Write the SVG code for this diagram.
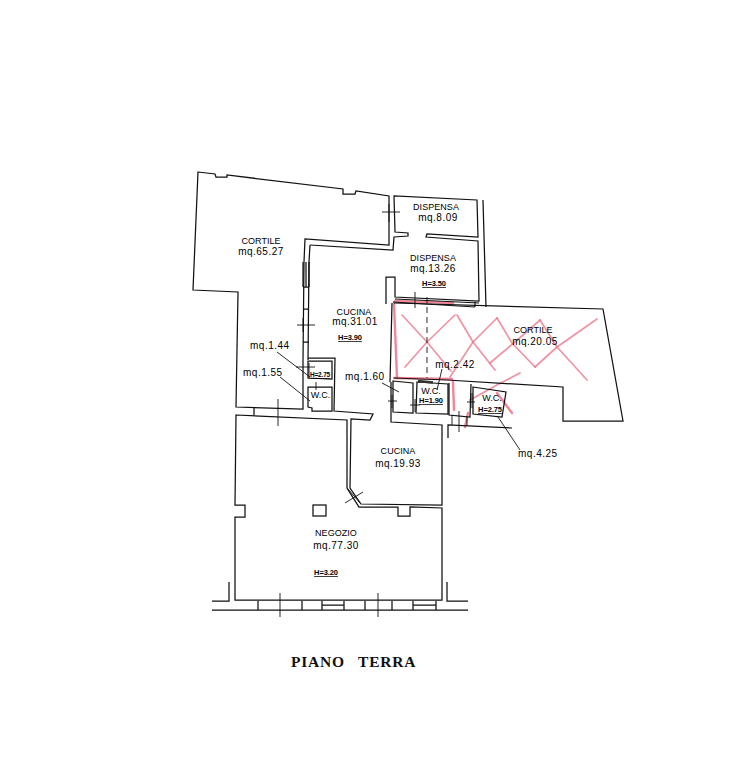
<svg xmlns="http://www.w3.org/2000/svg" width="746" height="764" viewBox="0 0 746 764">
<style>
.w{fill:none;stroke:#111;stroke-width:1.25;stroke-linejoin:miter}
.t{fill:none;stroke:#111;stroke-width:.9}
.r{fill:none;stroke:#e8667c;stroke-width:1.7;stroke-opacity:.7;stroke-linecap:round;stroke-linejoin:round}
.rb{fill:none;stroke:#ea5f76;stroke-width:2.400;stroke-opacity:.75;stroke-linecap:round}
text{font-family:"Liberation Sans",Arial,sans-serif;font-size:10px;fill:#000;text-anchor:middle;letter-spacing:.5px}
.c{font-size:9px;letter-spacing:.05px}
.h{font-size:7.500px;font-weight:bold;text-decoration:underline;letter-spacing:-.1px}
.s{font-size:6.500px;letter-spacing:-.2px}
.l{text-anchor:start}
.title{font-family:"Liberation Serif","Times New Roman",serif;font-size:15.5px;font-weight:bold;text-anchor:start;letter-spacing:.8px;fill:#111}
</style>
<rect width="746" height="764" fill="#fff"/>
<g id="red-marks">
<polyline class="r" points="402,315 427,342 451,371"/>
<polyline class="r" points="405,367 427,342 455,315"/>
<polyline class="r" points="457,315 473,342 495,370"/>
<polyline class="r" points="450,377 473,342 497,318"/>
<polyline class="r" points="497,318 512,343 535,367"/>
<polyline class="r" points="490,363 515,342 540,320"/>
<polyline class="r" points="540,320 557,347 587,380"/>
<polyline class="r" points="535,367 557,347 597,319"/>
<polyline class="r" points="470,400 495,386 520,373"/>
<polyline class="rb" points="497,393 512,413"/>
<polyline class="rb" points="394,303 397,378"/>
<polyline class="rb" points="394,378 452,379"/>
<polyline class="rb" points="395,301 453,303"/>
<polyline class="rb" points="453,382 454,410"/>
<polyline class="rb" points="468,413 465,427"/>
</g>
<g id="walls">
<path class="w" d="M198,172 L215,174 L216,177 L227,177 L227,175 L343,189 L343,194 L355,194 L356,191 L389,196 L389,245 L305,239 L304,262 L303,360 L303,409 L236,407 L238,292 L193,290 Z"/>
<path class="w" d="M310,245 L393,250 L394,237 L408,236 L408,233 L395,232 L394,196 L477,200 L478,237 L427,234 L426,237 L478,241 L479,301 L395,297 L395,277 L386,277 L386,304"/>
<path class="w" d="M310,245 L309,262 L308,360 L308,358 L335,358 L334,411 L373,414 L370,420 L351,419 L350,488 L361,504 L442,505 L442,425 L391,422 L391,382"/>
<path class="w" d="M236,415 L347,420 L347,488 L359,507 L398,507 L398,516 L410,516 L410,507 L442,508 L442,600 L235,600 L235,517 L245,517 L245,505 L235,505 Z"/>
<path class="w" d="M483,200 L486,307"/>
<path class="w" d="M394,303 L603,309 L623,421 L563,421 L563,387 L447,380 L394,378"/>
<path class="w" d="M392,303 L390,382"/>
<path class="w" d="M393,302 L475,307 M395,299 L479,303 M475,302 L475,307"/>
<path class="w" d="M303,262 L303,287 M306,262 L306,287 M309,262 L309,287 M303,287 L309,287 M303,309 L309,309 M303,342 L309,342"/>
<path class="w" d="M254,408 L254,415"/>
<path class="w" d="M212,601 L229,601 L229,582 M447,582 L447,601 L468,601 M212,610 L468,610"/>
<path class="w" d="M258,601 L258,610 M302,601 L302,610 M322,601 L322,610 M344,601 L344,610 M322,605 L344,605 M365,601 L365,610 M392,601 L392,610 M413,601 L413,610 M436,601 L436,610 M413,605 L436,605"/>
<rect class="w" x="313" y="505" width="13" height="11"/>
<path class="w" d="M308,361 L332,361 L332,379 L308,378 Z"/>
<path class="w" d="M308,387 L332,387 L332,411 L312,411 L312,408 L308,407 Z"/>
<path class="w" d="M393,381 L413,383 L413,413 L393,412 Z"/>
<path class="w" d="M417,382 L448,384 L448,414 L416,413 Z"/>
<path d="M418,381 L433,382.500" stroke="#333" stroke-width="2.500" fill="none"/>
<path class="w" d="M449,383 L449,415 L470,417 L471,384"/>
<path class="w" d="M473,387 L506,392 L502,417 L473,414 Z"/>
<path class="w" d="M448,438 L448,425 L512,428"/>
</g>
<g id="ticks">
<path class="t" d="M382,212 L400,212 M389,204 L389,222 M415,292 L415,308"/>
<path class="t" d="M297,325 L315,325 M303,318 L303,332"/>
<path class="t" d="M296,367 L315,367 M309,363 L309,379 M316,382 L316,390"/>
<path class="t" d="M278,399 L278,426 M280,593 L280,617 M378,593 L378,617"/>
<path class="t" d="M345,503 L363,492 M348,489 L360,503"/>
<path class="t" d="M388,401 L397,401 M392,395 L392,408 M410,405 L420,405 M415,399 L415,412"/>
<path class="t" d="M467,402 L475,402 M472,393 L472,408 M452,415 L452,425 M459,411 L459,432 M467,417 L467,426"/>
<path class="t" stroke-dasharray="6 4" d="M427,297 L427,378"/>
<path class="t" d="M277,352 L310,377 M280,377 L310,401 M382,383 L399,392 M442,369 L437,390 M498,417 L520,450"/>
</g>
<g id="labels">
<text class="c" x="261" y="244">CORTILE</text>
<text x="261" y="255">mq.65.27</text>
<text class="c" x="354" y="315">CUCINA</text>
<text x="355" y="325">mq.31.01</text>
<text class="h" x="350" y="340">H=3.90</text>
<text class="l" x="250" y="349">mq.1.44</text>
<text class="l" x="243" y="376">mq.1.55</text>
<text class="l" x="345" y="380">mq.1.60</text>
<text class="c" x="436" y="210">DISPENSA</text>
<text x="438" y="221">mq.8.09</text>
<text class="c" x="433" y="261">DISPENSA</text>
<text x="433" y="272">mq.13.26</text>
<text class="h" x="434" y="286">H=3.50</text>
<text class="c" x="533" y="333">CORTILE</text>
<text x="535" y="345">mq.20.05</text>
<text x="455" y="368">mq.2.42</text>
<text class="c" x="431" y="394">W.C.</text>
<text class="h" x="431" y="403">H=1.90</text>
<text class="c" x="492" y="401">W.C.</text>
<text class="h" x="490" y="412">H=2.75</text>
<text class="l" x="518" y="457">mq.4.25</text>
<text class="h s" x="320" y="377">H=2.75</text>
<text class="c" x="320.500" y="398">W.C.</text>
<text class="c" x="398" y="454">CUCINA</text>
<text x="398" y="467">mq.19.93</text>
<text class="c" x="336" y="536">NEGOZIO</text>
<text x="336" y="549">mq.77.30</text>
<text class="h" x="326" y="575">H=3.20</text>
<text class="title" y="667"><tspan x="291">PIANO</tspan><tspan x="358">TERRA</tspan></text>
</g>
</svg>
